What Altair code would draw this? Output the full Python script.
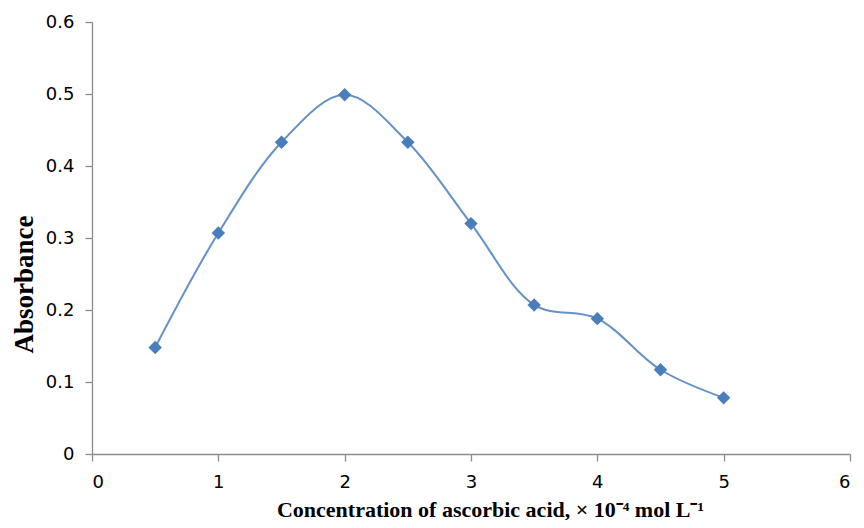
import altair as alt
import pandas as pd

conc = [0.5, 1.0, 1.5, 2.0, 2.5, 3.0, 3.5, 4.0, 4.5, 5.0]
absorbance = [0.148, 0.307, 0.433, 0.499, 0.433, 0.320, 0.207, 0.188, 0.117, 0.078]
x_ticks = [0, 1, 2, 3, 4, 5, 6]
y_ticks = [0, 0.1, 0.2, 0.3, 0.4, 0.5, 0.6]

df = pd.DataFrame({"conc": conc, "abs": absorbance})

COLOR = "#4A7EBB"

x = alt.X("conc:Q", scale=alt.Scale(domain=[0, 6], nice=False),
          axis=alt.Axis(values=x_ticks, format="d", grid=False, labelPadding=12,
                        title="Concentration of ascorbic acid, × 10⁻⁴ mol L⁻¹",
                        titleFontSize=22,
                        titleX=398, titleY=55, titleBaseline="middle", titleAlign="center"))
y = alt.Y("abs:Q", scale=alt.Scale(domain=[0, 0.6], nice=False),
          axis=alt.Axis(values=y_ticks, format="~g", grid=False, labelPadding=11,
                        title="Absorbance", titleFontSize=27,
                        titleX=-68, titleY=262, titleAngle=-90,
                        titleBaseline="middle", titleAlign="center"))

line = alt.Chart(df).mark_line(interpolate="catmull-rom", color=COLOR, strokeWidth=2, opacity=0.85).encode(x=x, y=y)
pts = alt.Chart(df).mark_point(shape="diamond", filled=True, size=180, color=COLOR, opacity=1).encode(x=x, y=y)

chart = (line + pts).properties(
    width=758, height=432,
    autosize=alt.AutoSizeParams(type="none"),
    padding={"left": 84, "top": 14, "right": 6, "bottom": 66},
).configure_view(stroke=None).configure_axis(
    domainColor="#8c8c8c", tickColor="#8c8c8c", tickSize=7, domainWidth=1.3, tickWidth=1.3,
    labelFont="DejaVu Sans", labelFontSize=18, labelColor="#000000",
    titleFont="Liberation Serif", titleFontWeight="bold", titleColor="#000000",
)

chart.save("out.html", embed_options={"renderer": "svg", "actions": False})
